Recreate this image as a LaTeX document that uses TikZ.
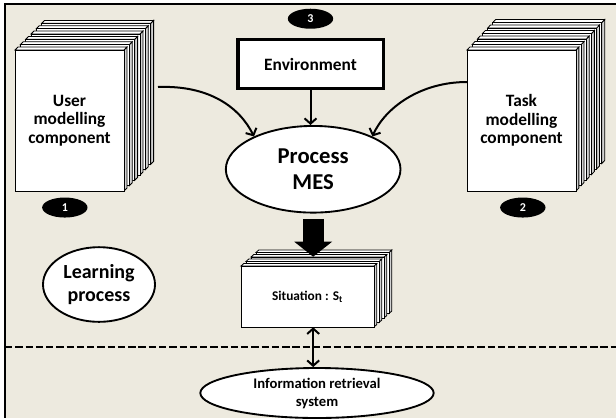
\documentclass[tikz,border=0pt]{standalone}
\usepackage{fontspec}
\setmainfont{Carlito}
\usepackage{xcolor}
\usepackage{tikz}
\usetikzlibrary{shapes,arrows.meta,positioning}

\definecolor{paper}{RGB}{237,234,223}

% stack of pages: x, y (front top left), width, height, pages, depth x, depth y
\newcommand{\pagestack}[7]{%
  \pgfmathsetmacro{\stkx}{#6/#5}%
  \pgfmathsetmacro{\stky}{#7/#5}%
  \pgfmathtruncatemacro{\stkn}{#5-1}%
  \foreach \k in {\stkn,...,0}{%
    \begin{scope}[shift={({#1+\k*\stkx},{#2+\k*\stky})}]
      \filldraw[stackline, fill=gray!35] (#3,0) -- ++({0.55*\stkx},{0.55*\stky}) -- ++(0,#4) -- (#3,#4) -- cycle;
      \filldraw[stackline, fill=white] (0,0) -- ++({0.55*\stkx},{0.55*\stky}) -- ++(#3,0) -- (#3,0) -- cycle;
      \filldraw[stackline, fill=white] (0,0) rectangle (#3,#4);
    \end{scope}}}

\begin{document}
\begin{tikzpicture}[
      x=0.75pt, y=-0.75pt,
      stackline/.style={line width=0.6pt, line join=miter},
      stacktext/.style={align=center, font=\bfseries\fontsize{13}{14}\selectfont},
      oval/.style={ellipse, draw, line width=1.4pt, fill=white, align=center, inner sep=0pt},
      badge/.style={ellipse, fill=black, text=white, inner sep=0pt, minimum width=34pt, minimum height=15pt, font=\bfseries\fontsize{9}{9}\selectfont},
      envbox/.style={rectangle, draw, line width=2.5pt, fill=white, minimum width=109pt, minimum height=37pt, font=\bfseries\fontsize{13}{14}\selectfont},
      arr/.style={line width=1.5pt, -{Straight Barb[length=4pt,width=9pt]}},
      dblarr/.style={line width=1.5pt, {Straight Barb[length=4pt,width=9pt]}-{Straight Barb[length=4pt,width=9pt]}},
      bigarrow/.style={line width=15.75pt, -{Triangle[width=27.75pt,length=11.25pt]}},
      sep/.style={line width=2.2pt, dash pattern=on 5.5pt off 2.2pt}
      ]
      \useasboundingbox (0,0) rectangle (616,418);
      \fill[paper] (5,4) rectangle (616,418);
      \draw[line width=1.1pt] (616,4) -- (5,4) -- (5,418);
      \draw[sep] (5,347) -- (616,347);

      % Stacks
      \pagestack{15}{50}{109}{141}{6}{32}{-32}
      \pagestack{467}{50}{109}{141}{6}{31}{-33}
      \pagestack{241}{266}{133}{61}{4}{20}{-18}

      % Nodes
      \node [stacktext, minimum width=81.75pt, minimum height=105.75pt] (user) at (69.5,120.5) {User\\modelling\\component};
      \node [stacktext, minimum width=81.75pt, minimum height=105.75pt] (task) at (521.5,120.5) {Task\\modelling\\component};
      \node [stacktext, minimum width=99.75pt, minimum height=45.75pt, font=\bfseries\fontsize{10}{12}\selectfont] (situation) at (307.5,296.5) {Situation : S\textsubscript{t}};
      \node [envbox] (env) at (310.5,64) {Environment};
      \node [oval, minimum width=131pt, minimum height=65pt, font=\bfseries\fontsize{17}{19.5}\selectfont, below=26pt of env, xshift=2pt] (process) {Process\\MES};
      \node [oval, minimum width=84pt, minimum height=56pt, font=\bfseries\fontsize{15}{17.5}\selectfont] (learning) at (99,284.5) {Learning\\process};
      \node [oval, minimum width=175pt, minimum height=37.5pt, font=\bfseries\fontsize{11}{13.5}\selectfont] (ir) at (317,393) {Information retrieval\\system};
      \node [badge, below=4.5pt of user, xshift=-3.5pt] (one) {1};
      \node [badge, below=4.5pt of task, xshift=1pt] (two) {2};
      \node [badge, above=6.5pt of env] (three) {3};

      % Connections
      \coordinate (userside) at (158,87);
      \coordinate (taskside) at (467,82);
      \draw[arr] (userside) .. controls (210,85) and (240,108) .. (process.151);
      \draw[arr] (taskside) .. controls (420,82) and (385,108) .. (process.29);
      \draw[arr] (env.south) -- (env.south |- process.north);
      \draw[bigarrow] ([yshift=-4pt]process.south) -- ([yshift=6.75pt]process.south |- situation.north);
      \draw[dblarr] (process.south |- situation.south) -- (process.south |- ir.north);
\end{tikzpicture}
\end{document}
